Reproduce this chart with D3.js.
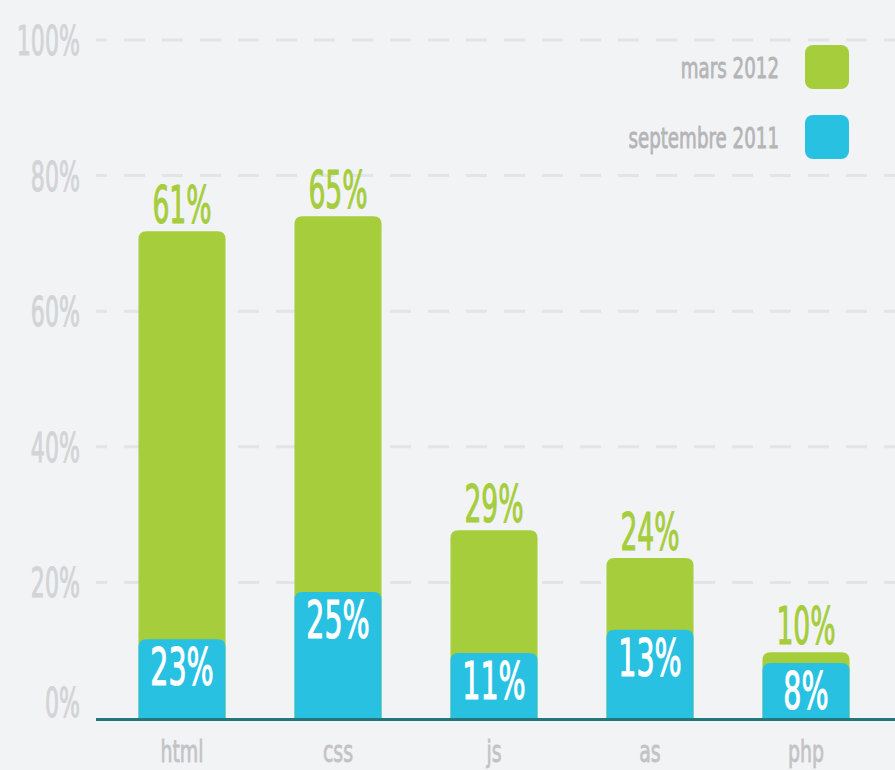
<!DOCTYPE html>
<html><head><meta charset="utf-8">
<script src="https://cdn.jsdelivr.net/npm/d3@7"></script>
<style>html,body{margin:0;padding:0;background:#f2f3f5;}svg{display:block;}</style>
</head><body>
<div id="chart"></div>
<script>
const categories = ["html", "css", "js", "as", "php"];
const seriesNames = ["mars 2012", "septembre 2011"];
// bar heights as drawn in the picture (%)
const mars2012 = [71.8, 74.0, 27.7, 23.6, 9.7];
const sept2011 = [11.6, 18.6, 9.6, 13.0, 8.1];
// value labels printed on the picture
const marsLabels = ["61%", "65%", "29%", "24%", "10%"];
const septLabels = ["23%", "25%", "11%", "13%", "8%"];
const yTicks = [0, 20, 40, 60, 80, 100];

const W = 895, H = 770;
const green = "#a5cd3c", blue = "#29c1e1";
const FONT = "'DejaVu Sans Condensed','Liberation Sans Narrow','Roboto',sans-serif";

const svg = d3.select("#chart").append("svg").attr("width", W).attr("height", H);
svg.append("rect").attr("width", W).attr("height", H).attr("fill", "#f2f3f5");

const y = d3.scaleLinear().domain([0, 100]).range([718, 40]);
const x = d3.scaleBand().domain(categories).range([104, 884]).paddingInner(0.442).paddingOuter(0.221);

function ctext(g, str, px, py, size, color, anchor, sx, sw) {
  return g.append("text").attr("transform", `translate(${px},${py}) scale(${sx},1)`)
    .attr("text-anchor", anchor).attr("font-family", FONT).attr("font-size", size)
    .attr("fill", color).attr("stroke", color).attr("stroke-width", sw)
    .attr("stroke-linejoin", "round").text(str);
}

// grid
const grid = svg.append("g");
grid.selectAll("line").data(yTicks.filter(d => d > 0)).join("line")
  .attr("x1", 96).attr("x2", W).attr("y1", d => y(d)).attr("y2", d => y(d))
  .attr("stroke", "#e3e4e7").attr("stroke-width", 3)
  .attr("stroke-dasharray", "21,17").attr("stroke-dashoffset", 10);

// y tick labels
const yl = svg.append("g");
yTicks.forEach(t => ctext(yl, t + "%", 80, t === 0 ? y(t) - 1 : y(t) + 15, 41, "#d3d4d6", "end", 0.6, 1));

// rounded-top bar path
function topRounded(x0, w, yt, yb, r) {
  r = Math.min(r, (yb - yt), w / 2);
  return `M${x0},${yb}V${yt + r}Q${x0},${yt} ${x0 + r},${yt}H${x0 + w - r}Q${x0 + w},${yt} ${x0 + w},${yt + r}V${yb}Z`;
}

const bars = svg.append("g");
bars.selectAll("path.g").data(categories).join("path").attr("class", "g")
  .attr("d", (c, i) => topRounded(x(c), x.bandwidth(), y(mars2012[i]), y(0), 8))
  .attr("fill", green);
bars.selectAll("path.b").data(categories).join("path").attr("class", "b")
  .attr("d", (c, i) => topRounded(x(c), x.bandwidth(), y(sept2011[i]), y(0), 8))
  .attr("fill", blue);

// axis line
svg.append("line").attr("x1", 96).attr("x2", W).attr("y1", 719.5).attr("y2", 719.5)
  .attr("stroke", "#23777a").attr("stroke-width", 3);

// value labels
const lab = svg.append("g");
categories.forEach((c, i) => {
  const cx = x(c) + x.bandwidth() / 2;
  ctext(lab, marsLabels[i], cx, y(mars2012[i]) - 8, 52, green, "middle", 0.57, 1.1);
  ctext(lab, septLabels[i], cx, y(sept2011[i]) + 46, 52, "#ffffff", "middle", 0.61, 1.1);
  ctext(lab, c, cx, 762, 31, "#c3c3c5", "middle", 0.68, 0.8);
});

// legend
const lg = svg.append("g");
const legColors = [green, blue];
seriesNames.forEach((s, i) => {
  const yy = 45 + i * 70;
  lg.append("rect").attr("x", 805).attr("y", yy).attr("width", 44).attr("height", 44)
    .attr("rx", 8).attr("fill", legColors[i]);
  ctext(lg, s, 779, yy + 33, 29, "#b5b5b7", "end", 0.7, 0.8);
});
</script>
</body></html>
